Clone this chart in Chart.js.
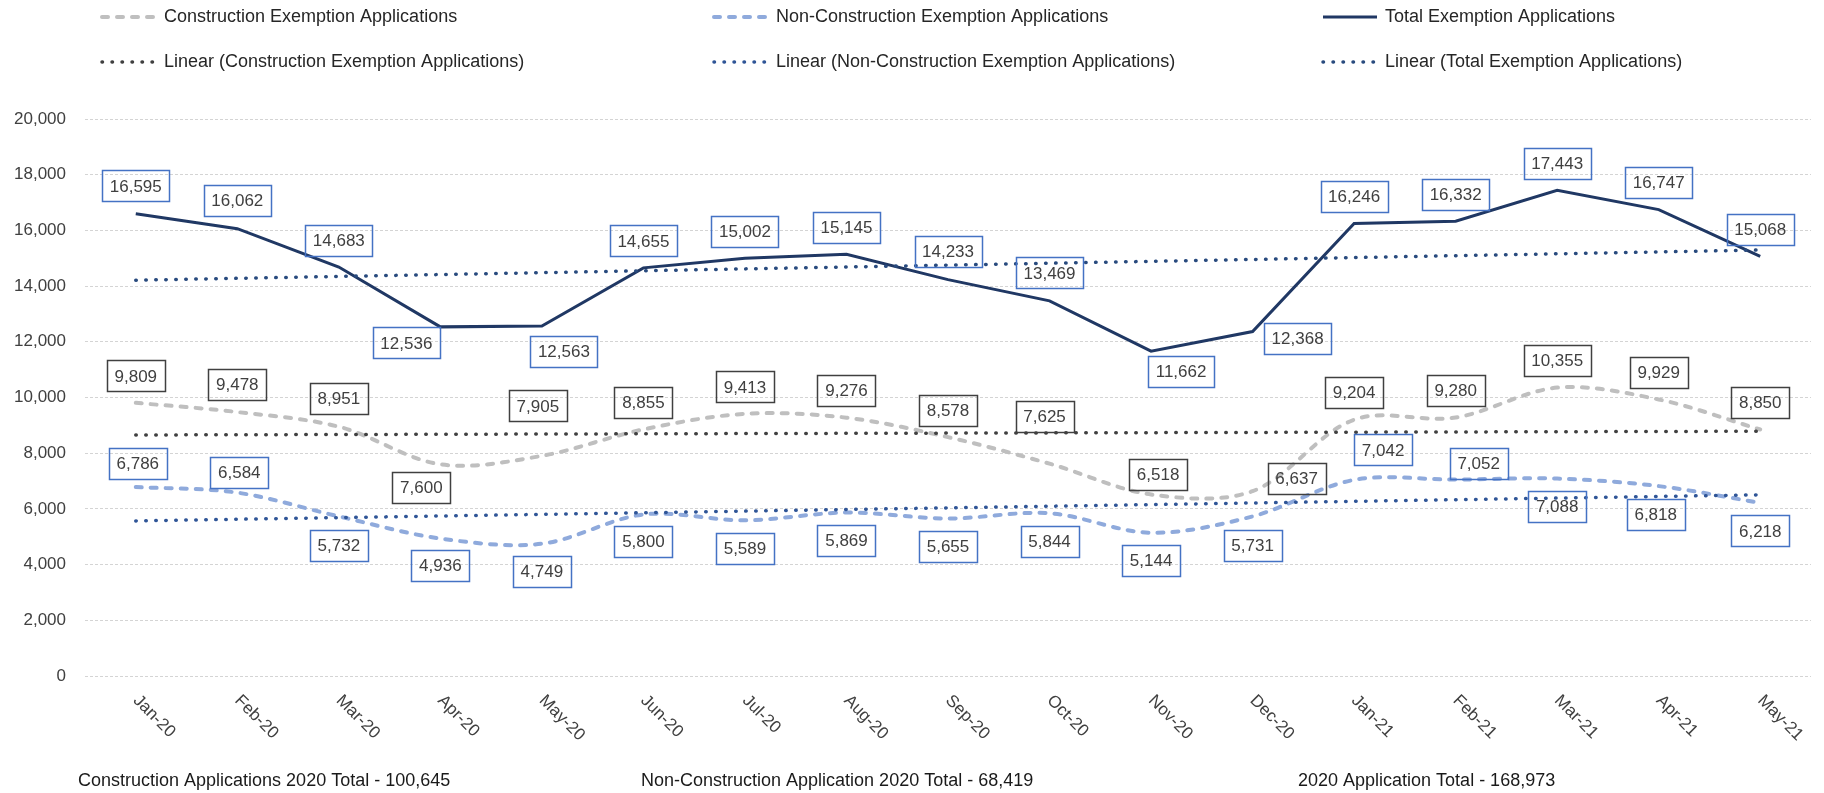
<!DOCTYPE html>
<html>
<head>
<meta charset="utf-8">
<script src="https://cdn.jsdelivr.net/npm/chart.js@4.4.1/dist/chart.umd.min.js"></script>
<style>
  html, body { margin: 0; padding: 0; background: #fff; }
</style>
</head>
<body>
<canvas id="chart" width="1824" height="793"></canvas>
<script>
const FONT = "'Liberation Sans', Arial, sans-serif";

const months = ['Jan-20', 'Feb-20', 'Mar-20', 'Apr-20', 'May-20', 'Jun-20', 'Jul-20', 'Aug-20', 'Sep-20',
  'Oct-20', 'Nov-20', 'Dec-20', 'Jan-21', 'Feb-21', 'Mar-21', 'Apr-21', 'May-21'];
const construction = [9809, 9478, 8951, 7600, 7905, 8855, 9413, 9276, 8578, 7625, 6518, 6637, 9204, 9280, 10355, 9929, 8850];
const nonConstruction = [6786, 6584, 5732, 4936, 4749, 5800, 5589, 5869, 5655, 5844, 5144, 5731, 7042, 7052, 7088, 6818, 6218];
const total = [16595, 16062, 14683, 12536, 12563, 14655, 15002, 15145, 14233, 13469, 11662, 12368, 16246, 16332, 17443, 16747, 15068];
const yTicks = [0, 2000, 4000, 6000, 8000, 10000, 12000, 14000, 16000, 18000, 20000];
const bottomNotes = [
  'Construction Applications 2020 Total - 100,645',
  'Non-Construction Application 2020 Total - 68,419',
  '2020 Application Total - 168,973'
];

// where each data label box sits, relative to its point (dx, dy)
const constructionLabelPos = [[0, -27], [0, -28], [0, -28], [-19, 23], [-4, -50], [0, -27], [0, -27], [0, -27], [0, -27],
  [-5, -47], [7, -20], [44, -13], [0, -27], [0, -27], [0, -27], [0, -27], [0, -27]];
const nonConstructionLabelPos = [[2, -24], [2, -20], [0, 29], [0, 27], [0, 28], [0, 27], [0, 28], [0, 28], [0, 28],
  [0, 28], [0, 28], [0, 29], [29, -30], [23, -16], [0, 28], [-3, 28], [0, 28]];
const totalLabelPos = [[0, -28], [0, -28], [0, -27], [-34, 16], [22, 25], [0, -27], [0, -27], [0, -27], [0, -28],
  [0, -28], [30, 20], [45, 7], [0, -27], [0, -27], [0, -27], [0, -27], [0, -27]];

// Excel style linear trendline (least squares over the 17 months)
function linearFit(ys) {
  const n = ys.length, mx = (n - 1) / 2;
  const my = ys.reduce((a, b) => a + b, 0) / n;
  let sxy = 0, sxx = 0;
  ys.forEach((y, i) => { sxy += (i - mx) * (y - my); sxx += (i - mx) ** 2; });
  const b = sxy / sxx;
  return ys.map((_, i) => my + b * (i - mx));
}

const boxLabels = [
  { index: 0, values: construction, pos: constructionLabelPos, border: '#404040' },
  { index: 1, values: nonConstruction, pos: nonConstructionLabelPos, border: '#4472C4' },
  { index: 2, values: total, pos: totalLabelPos, border: '#4472C4' }
];

const extras = {
  id: 'extras',
  afterDatasetsDraw(chart) {
    const ctx = chart.ctx;
    ctx.save();
    ctx.font = `17px ${FONT}`;
    ctx.textAlign = 'center';
    ctx.textBaseline = 'middle';
    boxLabels.forEach(s => {
      chart.getDatasetMeta(s.index).data.forEach((pt, i) => {
        const text = s.values[i].toLocaleString('en-US');
        const w = Math.round(ctx.measureText(text).width + 15), h = 31;
        const cx = pt.x + s.pos[i][0], cy = pt.y + s.pos[i][1];
        ctx.lineWidth = 1.5;
        ctx.strokeStyle = s.border;
        ctx.strokeRect(Math.round(cx - w / 2) + 0.5, Math.round(cy - h / 2) + 0.5, w, h);
        ctx.fillStyle = '#404040';
        ctx.fillText(text, cx, cy + 1);
      });
    });
    ctx.restore();
  },
  afterDraw(chart) {
    const ctx = chart.ctx;
    const xs = chart.scales.x;
    ctx.save();

    // rotated month labels
    ctx.font = `17px ${FONT}`;
    ctx.fillStyle = '#404040';
    ctx.textAlign = 'left';
    ctx.textBaseline = 'middle';
    months.forEach((m, i) => {
      ctx.save();
      ctx.translate(xs.getPixelForValue(i), chart.chartArea.bottom + 22);
      ctx.rotate(Math.PI / 4);
      ctx.fillText(m, 0, 0);
      ctx.restore();
    });

    // legend, 3 columns x 2 rows
    const cols = [100, 712, 1321], rows = [17, 62];
    ctx.font = `18px ${FONT}`;
    chart.data.datasets.forEach((ds, i) => {
      const x = cols[i % 3], y = rows[Math.floor(i / 3)];
      ctx.beginPath();
      ctx.strokeStyle = ds.borderColor;
      ctx.lineWidth = ds.borderWidth;
      ctx.lineCap = ds.borderCapStyle || 'butt';
      ctx.setLineDash(ds.borderDash || []);
      ctx.moveTo(x + 2, y);
      ctx.lineTo(x + 56, y);
      ctx.stroke();
      ctx.setLineDash([]);
      ctx.fillStyle = '#262626';
      ctx.fillText(ds.label, x + 64, y);
    });

    // totals under the chart
    [78, 641, 1298].forEach((x, i) => {
      ctx.fillStyle = '#1a1a1a';
      ctx.fillText(bottomNotes[i], x, 781);
    });
    ctx.restore();
  }
};

const dashed = { borderWidth: 4, borderDash: [6, 9], borderCapStyle: 'round', tension: 0.33, pointRadius: 0, fill: false, order: 1 };
const dotted = { borderWidth: 3.5, borderDash: [0.5, 9.5], borderCapStyle: 'round', tension: 0, pointRadius: 0, fill: false, order: 0 };

new Chart(document.getElementById('chart'), {
  type: 'line',
  data: {
    labels: months,
    datasets: [
      { ...dashed, label: 'Construction Exemption Applications', data: construction, borderColor: '#BFBFBF' },
      { ...dashed, label: 'Non-Construction Exemption Applications', data: nonConstruction, borderColor: '#8FAADC' },
      { label: 'Total Exemption Applications', data: total, borderColor: '#203864', borderWidth: 3, tension: 0, pointRadius: 0, fill: false, order: 1 },
      { ...dotted, label: 'Linear (Construction Exemption Applications)', data: linearFit(construction), borderColor: '#404040' },
      { ...dotted, label: 'Linear (Non-Construction Exemption Applications)', data: linearFit(nonConstruction), borderColor: '#2F5597' },
      { ...dotted, label: 'Linear (Total Exemption Applications)', data: linearFit(total), borderColor: '#284A7E' }
    ]
  },
  options: {
    responsive: false,
    animation: false,
    devicePixelRatio: 1,
    layout: { padding: { left: 0, right: 13, top: 119, bottom: 0 } },
    plugins: { legend: { display: false }, tooltip: { enabled: false } },
    scales: {
      x: {
        offset: true,
        grid: { display: false },
        border: { display: false },
        ticks: { display: false },
        afterFit: s => { s.height = 117; }
      },
      y: {
        min: 0,
        max: 20000,
        afterBuildTicks: s => { s.ticks = yTicks.map(v => ({ value: v })); },
        grid: { color: '#D4D4D4', lineWidth: 1, drawTicks: false },
        border: { display: false, dash: [3, 2] },
        ticks: { padding: 19, color: '#404040', font: { family: FONT, size: 17 }, callback: v => v.toLocaleString('en-US') },
        afterFit: s => { s.width = 85; }
      }
    }
  },
  plugins: [extras]
});
</script>
</body>
</html>
